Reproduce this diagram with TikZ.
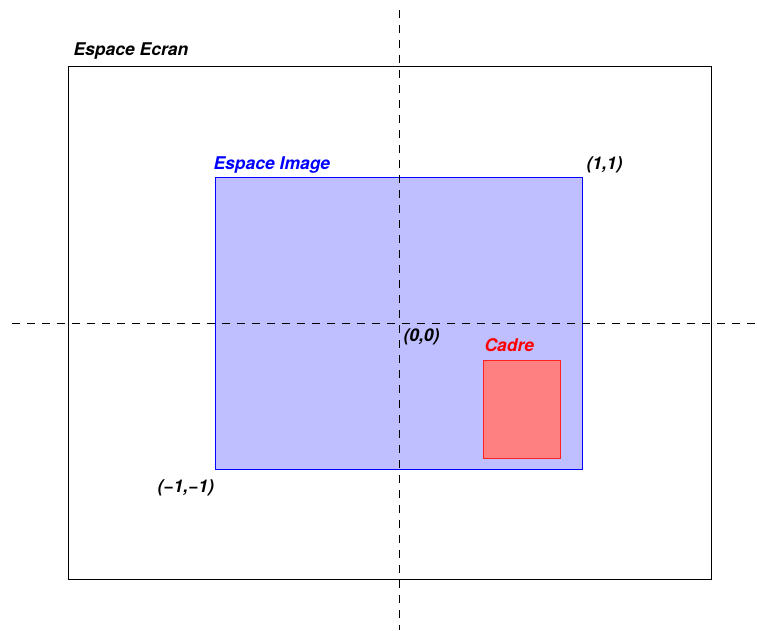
\documentclass[tikz,border=0pt]{standalone}
\usepackage{fontspec}
\setmainfont{TeX Gyre Heros}
\definecolor{imgfill}{RGB}{191,191,255}
\definecolor{cadrefill}{RGB}{255,128,128}
\definecolor{cadreline}{RGB}{255,32,32}
\begin{document}
\begin{tikzpicture}[x=1pt, y=-1pt, line width=1pt,
  lbl/.style={anchor=base west, inner sep=0pt, font=\fontsize{17.5}{20}\selectfont\bfseries\itshape},
  axis/.style={dash pattern=on 8pt off 7pt, line width=1pt}]

  \useasboundingbox (0,0) rectangle (757,630);

  % -- Screen space --
  \draw[black] (68,66) rectangle (711,579);
  \node[lbl] (ecran) at (73,55) {Espace Ecran};

  % -- Image space --
  \draw[blue, fill=imgfill] (215,177) rectangle (582,469);
  \node[lbl, blue] (image) at (213,169) {Espace Image};

  % -- Frame --
  \draw[cadreline, fill=cadrefill] (483,360) rectangle (560,458);
  \node[lbl, red] (cadre) at (484,351) {Cadre};

  % -- Axes --
  \draw[axis] (399,10) -- (399,630);
  \draw[axis] (12,323) -- (757,323);

  % -- Corner labels --
  \node[lbl] (haut) at (586,169) {(1,1)};
  \node[lbl] (origine) at (403,341) {(0,0)};
  \node[lbl] (bas) at (157,492) {(\textminus1,\textminus1)};

\end{tikzpicture}
\end{document}
